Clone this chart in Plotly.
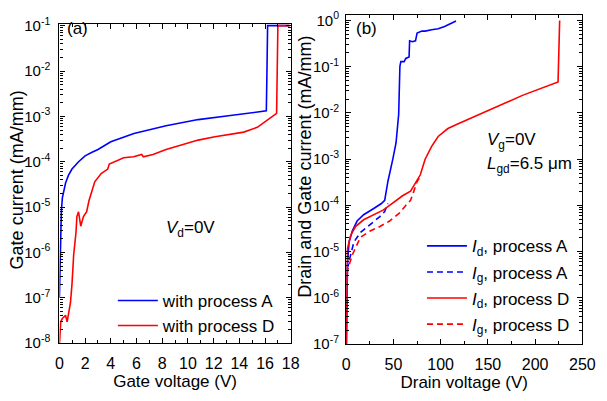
import plotly.graph_objects as go

# ---------------- Panel (a): gate current vs gate voltage ----------------
vg_A = [0.0, 0.03, 0.06, 0.1, 0.15, 0.23, 0.35, 0.48, 0.7, 0.98, 1.49, 2.0, 2.5, 3.0,
        4.0, 5.8, 8.3, 10.8, 13.3, 15.9, 16.1, 16.15, 16.2, 17.9]
ig_A = [1e-7, 3.2e-7, 1e-6, 3.2e-6, 7.9e-6, 1.6e-5, 2.5e-5, 3.4e-5, 5.0e-5, 6.9e-5,
        1.0e-4, 1.35e-4, 1.6e-4, 1.86e-4, 2.75e-4, 4.2e-4, 6.2e-4, 8.5e-4, 1.05e-3,
        1.29e-3, 1.32e-3, 1.0e-2, 0.1, 0.1]

vg_D = [0.0, 0.02, 0.1, 0.23, 0.48, 0.6, 0.73, 0.86, 0.98, 1.11, 1.29, 1.36, 1.49, 1.66,
        1.87, 2.12, 2.3, 2.75, 3.25, 3.76, 3.88, 4.26, 5.0, 5.77, 6.4, 6.53, 7.28, 8.3,
        9.55, 10.8, 12.1, 13.3, 14.35, 15.4, 16.1, 16.6, 16.9, 17.0, 17.9]
ig_D = [1.0e-8, 1.12e-8, 2.95e-8, 3.5e-8, 4.1e-8, 2.95e-8, 4.8e-8, 7.8e-8, 2.0e-7,
        8.9e-7, 2.75e-6, 6.2e-6, 7.9e-6, 3.8e-6, 6.2e-6, 7.9e-6, 1.38e-5, 3.6e-5,
        5.5e-5, 6.9e-5, 8.9e-5, 1.0e-4, 1.23e-4, 1.29e-4, 1.45e-4, 1.29e-4, 1.45e-4,
        1.86e-4, 2.34e-4, 3.0e-4, 3.55e-4, 4.0e-4, 4.5e-4, 5.75e-4, 7.9e-4, 1.0e-3,
        1.17e-3, 0.1, 0.1]

# ---------------- Panel (b): drain / gate current vs drain voltage ----------------
vd_IdA = [0.3, 0.8, 1.4, 3.1, 6.5, 11.6, 18.5, 28.8, 37.3, 40.8, 44.2, 49.4, 52.8, 55.6,
          56.3, 56.9, 57.9, 61.4, 63.1, 66.6, 67.2, 70.0, 73.4, 75.1, 80.2, 83.6, 90.5,
          97.4, 104.2, 111.1, 116.3]
id_A = [1e-7, 1e-6, 5.4e-6, 1.62e-5, 2.8e-5, 4.6e-5, 6.3e-5, 8.5e-5, 1.1e-4, 1.29e-4,
        3.3e-4, 1.0e-3, 2.24e-3, 9.3e-3, 3.3e-2, 0.102, 0.129, 0.129, 0.151, 0.162,
        0.363, 0.347, 0.363, 0.537, 0.589, 0.589, 0.631, 0.661, 0.741, 0.871, 0.977]

vd_IgA = [1.0, 1.4, 4.8, 8.2, 15.1, 25.4, 35.7, 40.8, 44.2]
ig_A_b = [2.5e-6, 4.6e-6, 8.5e-6, 1.62e-5, 2.6e-5, 3.9e-5, 5.75e-5, 7.4e-5, 1.1e-4]

vd_IdD = [0.3, 0.8, 1.4, 4.8, 9.9, 18.5, 28.8, 39.1, 46.0, 52.8, 59.7, 68.2, 73.4, 78.5,
          83.6, 90.5, 97.4, 107.7, 118.0, 152.3, 186.6, 224.3, 226.0]
id_D = [1e-7, 1e-6, 1.17e-5, 2.24e-5, 3.5e-5, 4.9e-5, 6.3e-5, 7.9e-5, 1.0e-4, 1.29e-4,
        1.62e-4, 2.04e-4, 3.1e-4, 4.6e-4, 1.0e-3, 1.9e-3, 3.1e-3, 4.6e-3, 5.75e-3,
        1.17e-2, 2.4e-2, 4.7e-2, 1.0]

vd_IgD = [1.0, 1.4, 6.5, 15.1, 25.4, 35.7, 46.0, 56.3, 63.1, 68.2, 71.7, 75.1, 78.5]
ig_D_b = [2.0e-6, 3.9e-6, 8.5e-6, 2.04e-5, 2.8e-5, 3.5e-5, 4.6e-5, 6.8e-5, 1.0e-4,
          1.29e-4, 2.04e-4, 3.3e-4, 4.2e-4]

# tick labels
ya_vals = [1e-8, 1e-7, 1e-6, 1e-5, 1e-4, 1e-3, 1e-2, 1e-1]
ya_text = ["10<sup>-8</sup>", "10<sup>-7</sup>", "10<sup>-6</sup>", "10<sup>-5</sup>",
           "10<sup>-4</sup>", "10<sup>-3</sup>", "10<sup>-2</sup>", "10<sup>-1</sup>"]
yb_vals = [1e-7, 1e-6, 1e-5, 1e-4, 1e-3, 1e-2, 1e-1, 1e0]
yb_text = ["10<sup>-7</sup>", "10<sup>-6</sup>", "10<sup>-5</sup>", "10<sup>-4</sup>",
           "10<sup>-3</sup>", "10<sup>-2</sup>", "10<sup>-1</sup>", "10<sup>0</sup>"]

BLUE = "#0000ff"
RED = "#ff0000"
FONT = "Liberation Sans, Arial, sans-serif"

fig = go.Figure()
fig.add_trace(go.Scatter(x=vg_A, y=ig_A, mode="lines", name="with process A",
                         line=dict(color=BLUE, width=1.6), xaxis="x", yaxis="y",
                         legend="legend"))
fig.add_trace(go.Scatter(x=vg_D, y=ig_D, mode="lines", name="with process D",
                         line=dict(color=RED, width=1.6), xaxis="x", yaxis="y",
                         legend="legend"))

fig.add_trace(go.Scatter(x=vd_IdA, y=id_A, mode="lines",
                         name="<i>I</i><sub>d</sub>, process A",
                         line=dict(color=BLUE, width=1.6), xaxis="x2", yaxis="y2",
                         legend="legend2", legendgroup="a"))
fig.add_trace(go.Scatter(x=vd_IgA, y=ig_A_b, mode="lines",
                         name="<i>I</i><sub>g</sub>, process A",
                         line=dict(color=BLUE, width=1.6, dash="6px,4px"), xaxis="x2",
                         yaxis="y2", legend="legend2", legendgroup="b"))
fig.add_trace(go.Scatter(x=vd_IdD, y=id_D, mode="lines",
                         name="<i>I</i><sub>d</sub>, process D",
                         line=dict(color=RED, width=1.6), xaxis="x2", yaxis="y2",
                         legend="legend2", legendgroup="c"))
fig.add_trace(go.Scatter(x=vd_IgD, y=ig_D_b, mode="lines",
                         name="<i>I</i><sub>g</sub>, process D",
                         line=dict(color=RED, width=1.6, dash="6px,4px"), xaxis="x2",
                         yaxis="y2", legend="legend2", legendgroup="d"))

W, H = 607, 401
axis_common = dict(showline=True, linecolor="black", linewidth=1.3, mirror="allticks",
                   ticks="inside", ticklen=5, tickwidth=1.2, tickcolor="black",
                   showgrid=False, zeroline=False)
xtick_font = dict(family=FONT, size=16, color="black")
ytick_font = dict(family=FONT, size=15, color="black")

fig.update_layout(
    width=W, height=H,
    margin=dict(l=0, r=0, t=0, b=0),
    paper_bgcolor="white", plot_bgcolor="white",
    font=dict(family=FONT, size=17, color="black"),
    xaxis=dict(domain=[57 / W, 295 / W], range=[0, 18], dtick=2, tick0=0,
               minor=dict(dtick=1, ticks="inside", ticklen=3, tickcolor="black"),
               title=dict(text="Gate voltage (V)", font=dict(size=17), standoff=1),
               ticklabelstandoff=5, tickfont=xtick_font, anchor="y", **axis_common),
    yaxis=dict(domain=[(H - 349) / H, (H - 15.5) / H], type="log", range=[-8, -0.96],
               tickmode="array", tickvals=ya_vals, ticktext=ya_text,
               minor=dict(dtick="D1", ticks="inside", ticklen=3, tickcolor="black"),
               ticklabelstandoff=5, tickfont=ytick_font, anchor="x", **axis_common),
    xaxis2=dict(domain=[352 / W, 595 / W], range=[0, 250], dtick=50, tick0=0,
                minor=dict(dtick=25, ticks="inside", ticklen=3, tickcolor="black"),
                title=dict(text="Drain voltage (V)", font=dict(size=17), standoff=1),
                ticklabelstandoff=5, tickfont=xtick_font, anchor="y2", **axis_common),
    yaxis2=dict(domain=[(H - 350) / H, (H - 6) / H], type="log", range=[-7, 0.124],
                tickmode="array", tickvals=yb_vals, ticktext=yb_text,
                minor=dict(dtick="D1", ticks="inside", ticklen=3, tickcolor="black"),
                ticklabelstandoff=3, tickfont=ytick_font, anchor="x2", **axis_common),
    legend=dict(x=112 / W, y=(H - 286) / H, xanchor="left", yanchor="top",
                bgcolor="rgba(0,0,0,0)", font=dict(size=17), itemwidth=40,
                tracegroupgap=0),
    legend2=dict(x=430 / W, y=(H - 229) / H, xanchor="left", yanchor="top",
                 bgcolor="rgba(0,0,0,0)", font=dict(size=17), itemwidth=40,
                 traceorder="grouped", tracegroupgap=1),
    showlegend=True,
)

ann = [
    dict(text="(a)", x=63 / W, y=(H - 20) / H, xanchor="left", size=17),
    dict(text="<i>V</i><sub>d</sub>=0V", x=165 / W, y=(H - 230) / H, xanchor="left",
         size=17),
    dict(text="(b)", x=360 / W, y=(H - 20) / H, xanchor="left", size=17),
    dict(text="<i>V</i><sub>g</sub>=0V", x=495 / W, y=(H - 138) / H, xanchor="left",
         size=17),
    dict(text="<i>L</i><sub>gd</sub>=6.5 \u03bcm", x=495 / W, y=(H - 163) / H,
         xanchor="left", size=17),
    dict(text="Gate current (mA/mm)", x=2 / W, y=(H - 178) / H, xanchor="left",
         textangle=-90, size=18),
    dict(text="Drain and Gate current (mA/mm)", x=297 / W, y=(H - 165) / H,
         xanchor="left", textangle=-90, size=18),
]
for a in ann:
    sz = a.pop("size")
    fig.add_annotation(xref="paper", yref="paper", yanchor="middle",
                       showarrow=False, font=dict(family=FONT, size=sz, color="black"),
                       **a)

fig.write_html("out.html")
